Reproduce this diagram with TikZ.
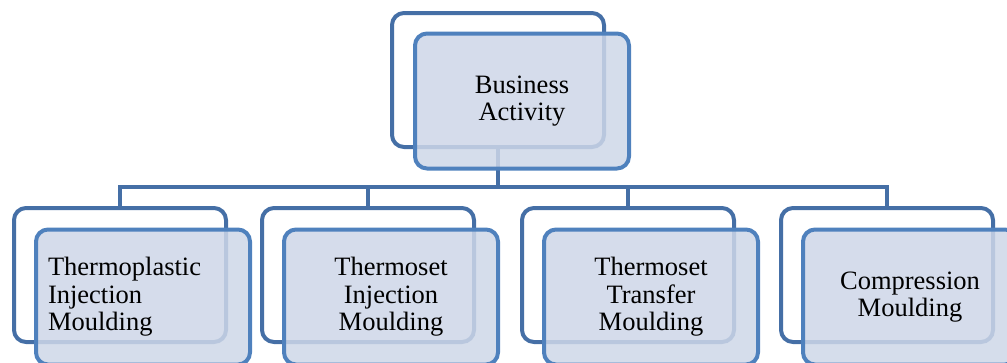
\documentclass[tikz,border=0pt]{standalone}
\usepackage{fontspec}
\setmainfont{Liberation Serif}
\usepackage{tikz}
\usetikzlibrary{calc, positioning}
\definecolor{boxline}{RGB}{69, 111, 166}
\definecolor{frontline}{RGB}{79, 129, 189}
\definecolor{frontfill}{RGB}{206, 215, 232}

\begin{document}
\begin{tikzpicture}[
		x=1pt, y=-1pt,
		texts/.style = {text=black, font=\fontsize{26.5}{27.5}\selectfont},
		connector/.style = {draw=boxline, line width=4pt},
		backbox/.style = {draw=boxline, line width=4pt, rounded corners=12pt, fill=white, minimum width=212pt, minimum height=134pt, inner sep=0pt},
		frontbox/.style = {texts, draw=frontline, line width=4pt, rounded corners=12pt, fill=frontfill, fill opacity=0.85, text opacity=1, minimum width=214pt, minimum height=135pt, inner sep=0pt, text width=190pt, align=center}
		]
		\useasboundingbox (0,0) rectangle (1007,362);
		\clip (0,0) rectangle (1007,362);
		
		\node [backbox] (back0) at (498,80) {};
		\node [backbox] (back1) at (120,275) {};
		\node [backbox] (back2) at (368,275) {};
		\node [backbox] (back3) at (628,275) {};
		\node [backbox] (back4) at (887,275) {};
		\coordinate (bus) at (498,187);
		
		\draw[connector] (back0.south) -- (bus);
		\draw[connector] (back1.north) |- (bus) -| (back4.north);
		\draw[connector] (back2.north) |- (bus);
		\draw[connector] (back3.north) |- (bus);
		
		\node [frontbox] (front0) at ($ (back0) + (24,21) $) {Business\\Activity};
		\node [frontbox, align=left] (front1) at ($ (back1) + (23,22) $) {Thermoplastic\\Injection\\Moulding};
		\node [frontbox] (front2) at ($ (back2) + (23,22) $) {Thermoset\\Injection\\Moulding};
		\node [frontbox] (front3) at ($ (back3) + (23,22) $) {Thermoset\\Transfer\\Moulding};
		\node [frontbox] (front4) at ($ (back4) + (23,22) $) {Compression\\Moulding};
		
		\end{tikzpicture}
\end{document}
